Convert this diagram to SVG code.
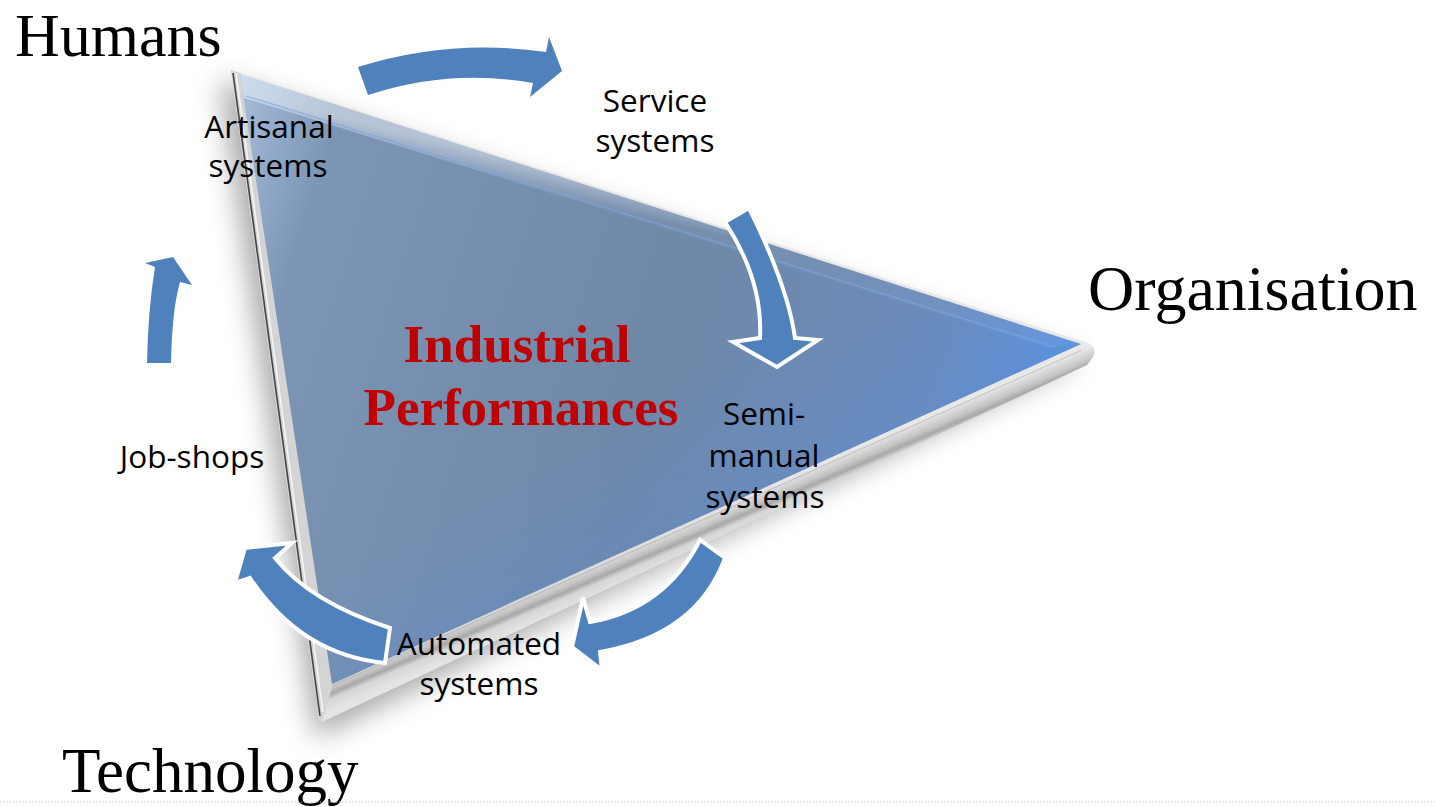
<svg xmlns="http://www.w3.org/2000/svg" width="1435" height="807" viewBox="0 0 1435 807">
<defs>
<style>
.big{font-family:"Liberation Serif","Times New Roman",serif;font-size:63px;fill:#000}
.lbl{font-family:"Open Sans","Liberation Sans",sans-serif;font-size:31.5px;fill:#000;text-anchor:middle}
.title{font-family:"Liberation Serif","Times New Roman",serif;font-size:53px;font-weight:bold;fill:#c00000;text-anchor:middle}
.arrow{fill:#4f81bd}
.arrowo{fill:#4f81bd;stroke:#fff;stroke-width:4;stroke-linejoin:miter}
</style>
<filter id="blur" x="-20%" y="-20%" width="140%" height="140%"><feGaussianBlur stdDeviation="14"/></filter>
<linearGradient id="face" gradientUnits="userSpaceOnUse" x1="240" y1="80" x2="1080" y2="345">
<stop offset="0" stop-color="#a6bedb"/>
<stop offset="0.12" stop-color="#7d95b5"/>
<stop offset="0.55" stop-color="#6f88a8"/>
<stop offset="0.85" stop-color="#6b8bbb"/>
<stop offset="1" stop-color="#5a92e0"/>
</linearGradient>
<linearGradient id="faceB" gradientUnits="userSpaceOnUse" x1="640" y1="400" x2="700" y2="520">
<stop offset="0" stop-color="#5c8fd8" stop-opacity="0"/>
<stop offset="1" stop-color="#5c8fd8" stop-opacity="0.25"/>
</linearGradient>
<linearGradient id="hl" gradientUnits="userSpaceOnUse" x1="600" y1="180" x2="594" y2="205">
<stop offset="0" stop-color="#ffffff" stop-opacity="0.45"/>
<stop offset="1" stop-color="#ffffff" stop-opacity="0.05"/>
</linearGradient>
<linearGradient id="bezB" gradientUnits="userSpaceOnUse" x1="700" y1="516" x2="713" y2="546">
<stop offset="0" stop-color="#e8e8e8"/>
<stop offset="0.35" stop-color="#c4c4c4"/>
<stop offset="0.5" stop-color="#a8a8a8"/>
<stop offset="0.65" stop-color="#d6d6d6"/>
<stop offset="1" stop-color="#e4e4e4"/>
</linearGradient>
<linearGradient id="bezL" gradientUnits="userSpaceOnUse" x1="232" y1="300" x2="245" y2="298">
<stop offset="0" stop-color="#c0c0c0"/>
<stop offset="0.4" stop-color="#efefef"/>
<stop offset="1" stop-color="#d4d4d4"/>
</linearGradient>
</defs>
<rect width="1435" height="807" fill="#fff"/>

<g id="triangle">
<path d="M 220,80 L 1080,360 L 315,738 Z" fill="#000" opacity="0.34" filter="url(#blur)"/>
<path d="M 231,70 L 1088,343 Q 1097,347 1093,357 L 1087,365 L 322,722 Q 318,720 318,714 Z" fill="url(#bezB)"/>
<path d="M 231,70 L 242,74 L 333,684 L 322,722 Q 318,720 318,714 Z" fill="url(#bezL)"/>
<path d="M 240,74 L 1081,344 L 332,684 Z" fill="url(#face)"/>
<path d="M 240,74 L 1081,344 L 332,684 Z" fill="url(#faceB)"/>
<path d="M 240,74 L 1081,344 L 1050,348 L 244,98 Z" fill="url(#hl)"/>
<line x1="246" y1="96" x2="1055" y2="347" stroke="#7aa7e6" stroke-width="1.2" opacity="0.7"/>
<line x1="233" y1="73" x2="320" y2="716" stroke="#444" stroke-width="1.6"/>
<line x1="236" y1="73" x2="323" y2="712" stroke="#fff" stroke-width="1.5" opacity="0.8"/>
<line x1="332" y1="686" x2="1082" y2="350" stroke="#a8a8a8" stroke-width="1" opacity="0.6"/>
</g>

<g id="connectors">
<path class="arrow" d="M 358,67 Q 450,38 546,52 L 549,37 L 562,71 L 530,97 L 533,83 Q 450,68 368,95 Z"/>
<path class="arrowo" d="M 725,222 L 749,208 Q 788,287 795,338 L 818,340 L 777,367 L 733,342 L 760,338 Q 763,280 725,222 Z"/>
<path class="arrowo" d="M 700,540 Q 665,609 590,622 L 583,598 L 572,647 L 602,670 L 600,652 Q 697,635 725,558 Z"/>
<path class="arrowo" d="M 390,628 Q 310,602 275,558 L 292,543 L 245,548 L 235,583 L 250,578 Q 301,655 385,663 Z"/>
<path class="arrow" d="M 147,363 L 171,363 Q 172,310 180,282 L 192,285 L 173,257 L 145,263 L 155,267 Q 148,310 147,363 Z"/>
</g>

<g id="humans"><text class="big" x="15" y="56" style="font-size:62px">Humans</text></g>
<g id="organisation"><text class="big" x="1088" y="310" style="font-size:64px">Organisation</text></g>
<g id="technology"><text class="big" x="62" y="792">Technology</text></g>

<g id="artisanal"><text class="lbl" x="269" y="138">Artisanal</text><text class="lbl" x="268" y="177">systems</text></g>
<g id="service"><text class="lbl" x="655" y="112">Service</text><text class="lbl" x="655" y="152">systems</text></g>
<g id="semimanual"><text class="lbl" x="764" y="425">Semi-</text><text class="lbl" x="764" y="467">manual</text><text class="lbl" x="765" y="508">systems</text></g>
<g id="jobshops"><text class="lbl" x="192" y="468">Job-shops</text></g>
<g id="automated"><text class="lbl" x="479" y="655">Automated</text><text class="lbl" x="479" y="695">systems</text></g>
<g id="performance"><text class="title" x="517" y="362">Industrial</text><text class="title" x="521" y="425">Performances</text></g>

<line x1="0" y1="802" x2="1435" y2="802" stroke="#c0c0c0" stroke-width="1.2" stroke-dasharray="1.2,2"/>
</svg>
